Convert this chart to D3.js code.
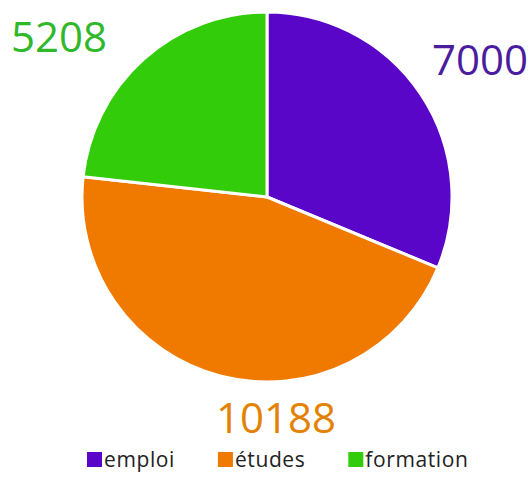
<!DOCTYPE html>
<html>
<head>
<meta charset="utf-8">
<script src="https://cdn.jsdelivr.net/npm/d3@7"></script>
<style>
  html, body { margin: 0; padding: 0; background: #fff; }
  svg text { font-family: "Open Sans", "Noto Sans", sans-serif; }
</style>
</head>
<body>
<svg id="chart"></svg>
<script>
const categories = ["emploi", "études", "formation"]
const values = [7000, 10188, 5208]
const sliceColors = ["#5a06c9", "#f07a00", "#33cc0a"]
const labelColors = ["#4a1d9e", "#e38200", "#2fb82a"]

const width = 529, height = 478
const cx = 267, cy = 197, r = 185

const svg = d3.select("#chart")
    .attr("width", width)
    .attr("height", height)

const pieData = d3.pie().sort(null).value(d => d)(values)
const arc = d3.arc().innerRadius(0).outerRadius(r)
const color = d3.scaleOrdinal(categories, sliceColors)

//Draw pie
svg.append("g")
    .attr("transform", `translate(${cx},${cy})`)
    .selectAll("path")
    .data(pieData)
    .join("path")
    .attr("d", arc)
    .attr("fill", (d, i) => color(categories[i]))
    .attr("stroke", "white")
    .attr("stroke-width", 3)
    .attr("stroke-linejoin", "round")

//Value labels
const labelPos = [
    { x: 528, y: 75, anchor: "end" },
    { x: 276, y: 433, anchor: "middle" },
    { x: 11, y: 52, anchor: "start" }
]
svg.append("g")
    .selectAll("text")
    .data(values)
    .join("text")
    .attr("x", (d, i) => labelPos[i].x)
    .attr("y", (d, i) => labelPos[i].y)
    .attr("text-anchor", (d, i) => labelPos[i].anchor)
    .attr("font-size", 42)
    .attr("font-weight", 500)
    .attr("fill", (d, i) => labelColors[i])
    .text(d => d)

//Legend
const legend = svg.append("g").attr("transform", "translate(87,452)")
let lx = 0
categories.forEach((c, i) => {
    const item = legend.append("g").attr("transform", `translate(${lx},0)`)
    item.append("rect")
        .attr("width", 15).attr("height", 15)
        .attr("fill", color(c))
    const t = item.append("text")
        .attr("x", 17).attr("y", 15)
        .attr("font-size", 21)
        .attr("letter-spacing", 0.6)
        .attr("fill", "#222")
        .text(c)
    lx += 17 + t.node().getComputedTextLength() + 43
})
</script>
</body>
</html>
